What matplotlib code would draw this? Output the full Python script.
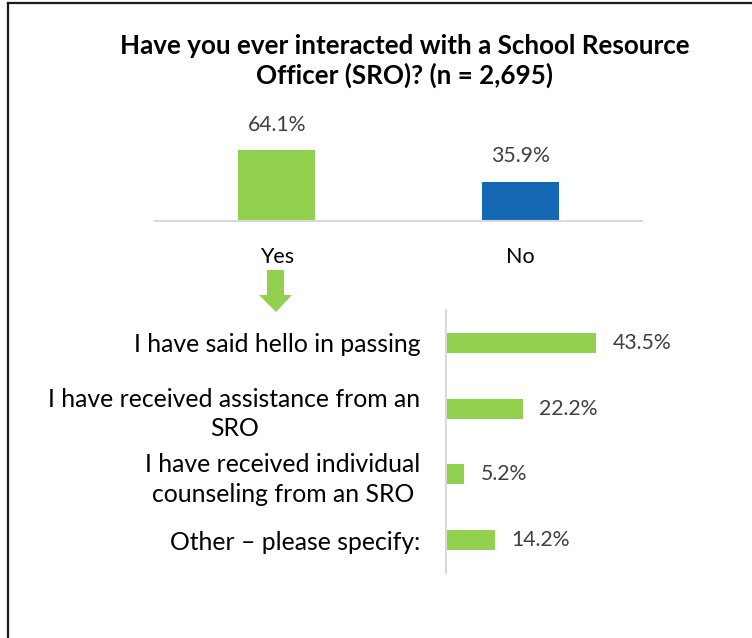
import matplotlib
matplotlib.use("Agg")
import matplotlib.pyplot as plt
from matplotlib.patches import Polygon
from matplotlib.lines import Line2D

plt.rcParams['font.family'] = ['Lato', 'DejaVu Sans']

# Survey results
title = "Have you ever interacted with a School Resource\nOfficer (SRO)? (n = 2,695)"
top_categories = ["Yes", "No"]
top_values = [64.1, 35.9]
top_colors = ["#92d050", "#1467b3"]

detail_categories = [
    "I have said hello in passing",
    "I have received assistance from an\nSRO",
    "I have received individual\ncounseling from an SRO",
    "Other \u2013 please specify:",
]
detail_values = [43.5, 22.2, 5.2, 14.2]
detail_color = "#92d050"

W, H = 752, 638
fig = plt.figure(figsize=(W / 100, H / 100), dpi=100)
fig.patch.set_facecolor("white")


def px_axes(left, top, right, bottom):
    return fig.add_axes([left / W, 1 - bottom / H, (right - left) / W, (bottom - top) / H])


label_color = "#404040"
grid_grey = "#d9d9d9"

# Top column chart: Yes / No
ax1 = px_axes(155, 100, 642, 221)
ax1.bar(range(len(top_values)), top_values, width=0.316, color=top_colors)
ax1.set_xlim(-0.5, 1.5)
ax1.set_ylim(0, 110)
for s in ["top", "right", "left"]:
    ax1.spines[s].set_visible(False)
ax1.spines["bottom"].set_color(grid_grey)
ax1.spines["bottom"].set_linewidth(1.5)
ax1.set_yticks([])
ax1.set_xticks(range(len(top_categories)))
ax1.set_xticklabels(top_categories, fontsize=15.5, color="black")
ax1.tick_params(axis="x", length=0, pad=19)
for i, v in enumerate(top_values):
    ax1.annotate(f"{v:.1f}%", (i, v), xytext=(0, 11), textcoords="offset points",
                 ha="center", va="bottom", fontsize=15.3, color=label_color)

# Bottom bar chart: kinds of interaction
ax2 = px_axes(446, 310, 653, 573)
ypos = list(range(len(detail_values)))
ax2.barh(ypos, detail_values, height=0.304, color=detail_color)
ax2.set_xlim(0, 60)
ax2.set_ylim(len(detail_values) - 0.5, -0.5)
for s in ["top", "right", "bottom"]:
    ax2.spines[s].set_visible(False)
ax2.spines["left"].set_color(grid_grey)
ax2.spines["left"].set_linewidth(1.5)
ax2.set_xticks([])
ax2.set_yticks(ypos)
ax2.set_yticklabels(detail_categories, fontsize=17.8, color="black",
                    multialignment="center", linespacing=1.35)
ax2.tick_params(axis="y", length=0, pad=18.5)
for y, v in zip(ypos, detail_values):
    ax2.annotate(f"{v:.1f}%", (v, y), xytext=(12, 0), textcoords="offset points",
                 ha="left", va="center", fontsize=15.3, color=label_color)

# Title
fig.text(405 / W, 1 - 61 / H, title, ha="center", va="center", fontsize=18.7,
         fontweight="bold", color="black", linespacing=1.25)

# Down arrow linking "Yes" to its breakdown (pixel units)
tr = fig.dpi_scale_trans
def pt(x, y):
    return (x / 100, (H - y) / 100)

arrow = Polygon([pt(267, 270), pt(284, 270), pt(284, 295), pt(292, 295),
                 pt(276, 312), pt(259, 295), pt(267, 295)],
                closed=True, facecolor=detail_color, edgecolor="none", transform=tr)
fig.patches.append(arrow)

# Frame lines
fig.add_artist(Line2D([8 / 100, W / 100], [(H - 3) / 100] * 2, color="#1a1a1a", lw=1.6, transform=tr))
fig.add_artist(Line2D([8 / 100] * 2, [0, (H - 3) / 100], color="#1a1a1a", lw=1.6, transform=tr))

fig.savefig("out.png", dpi=100, facecolor="white")
